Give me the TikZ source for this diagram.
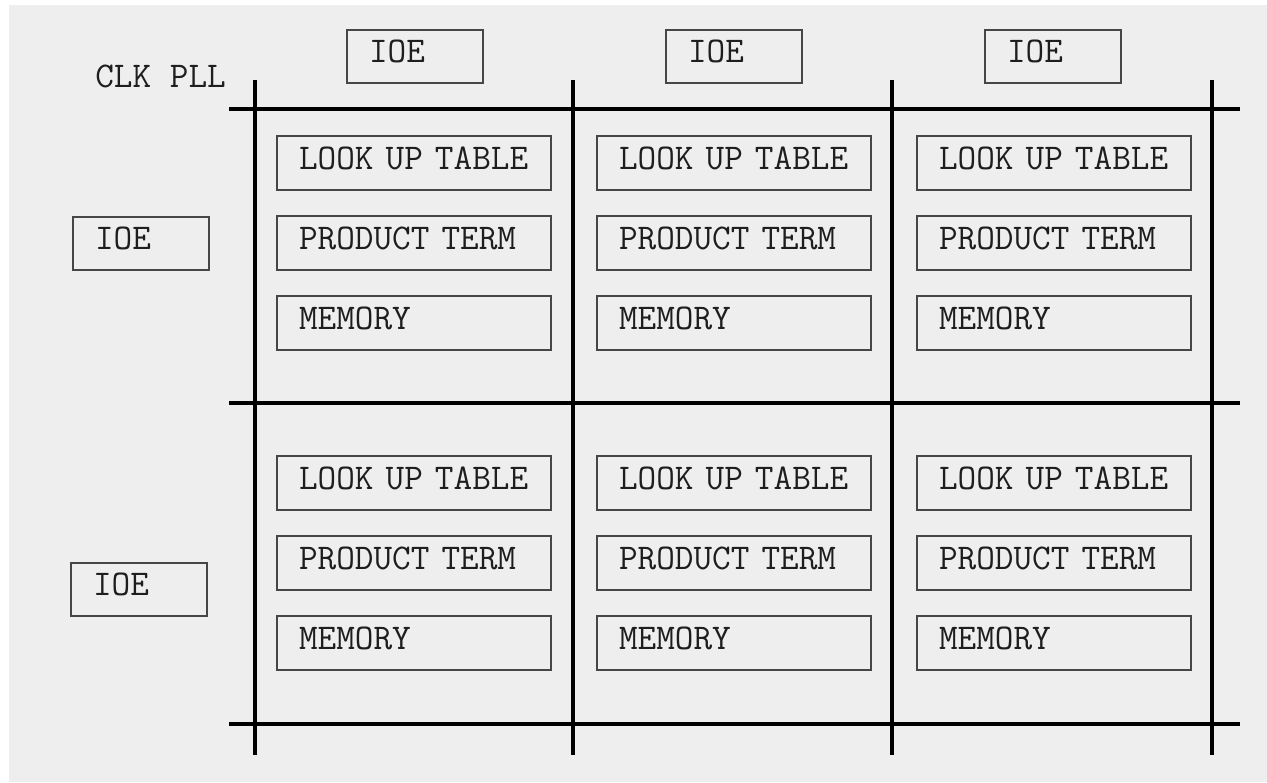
\documentclass[tikz,border=0pt]{standalone}
\usepackage{tikz}
\usetikzlibrary{positioning}
\usepackage{xcolor}
\definecolor{paper}{RGB}{238,238,238}
\definecolor{ink}{RGB}{30,30,30}
\definecolor{frame}{RGB}{70,70,70}
\newcommand{\typefont}{\fontsize{20.6}{23}\selectfont\ttfamily}

\begin{document}
\begin{tikzpicture}[
    cell/.style={draw=frame, line width=0.04cm, outer sep=0pt, inner xsep=0.44cm,
      minimum width=5.48cm, minimum height=1.08cm, text width=4.60cm, align=left,
      text depth=0.2cm, text=ink, font=\typefont},
    ioe/.style={cell, minimum width=2.72cm, minimum height=1.06cm, text width=1.84cm},
    bus/.style={line width=0.09cm, line cap=butt},
    node distance=0.52cm
  ]
  \useasboundingbox (0,0) rectangle (25.34,-15.64);
  \fill[paper] (0.18,-0.10) rectangle (25.34,-15.64);

  % routing grid
  \foreach \x in {5.10,11.46,17.84,24.24}
    \draw[bus, line width=0.07cm] (\x,-1.60) -- (\x,-15.10);
  \foreach \y in {-2.18,-8.06,-14.48}
    \draw[bus] (4.58,\y) -- (24.80,\y);

  % upper row of blocks
  \node[cell, anchor=north west] (lut1) at (5.54,-2.72) {LOOK UP TABLE};
  \node[cell, below=of lut1] (pt1) {PRODUCT TERM};
  \node[cell, below=of pt1] (mem1) {MEMORY};
  \node[cell, right=0.92cm of lut1] (lut2) {LOOK UP TABLE};
  \node[cell, below=of lut2] (pt2) {PRODUCT TERM};
  \node[cell, below=of pt2] (mem2) {MEMORY};
  \node[cell, right=0.92cm of lut2] (lut3) {LOOK UP TABLE};
  \node[cell, below=of lut3] (pt3) {PRODUCT TERM};
  \node[cell, below=of pt3] (mem3) {MEMORY};

  % lower row of blocks
  \node[cell, below=2.12cm of mem1] (lut4) {LOOK UP TABLE};
  \node[cell, below=of lut4] (pt4) {PRODUCT TERM};
  \node[cell, below=of pt4] (mem4) {MEMORY};
  \node[cell, right=0.92cm of lut4] (lut5) {LOOK UP TABLE};
  \node[cell, below=of lut5] (pt5) {PRODUCT TERM};
  \node[cell, below=of pt5] (mem5) {MEMORY};
  \node[cell, right=0.92cm of lut5] (lut6) {LOOK UP TABLE};
  \node[cell, below=of lut6] (pt6) {PRODUCT TERM};
  \node[cell, below=of pt6] (mem6) {MEMORY};

  % I/O elements
  \node[ioe, anchor=north west] (ioe1) at (6.94,-0.60) {IOE};
  \node[ioe, right=3.66cm of ioe1] (ioe2) {IOE};
  \node[ioe, right=3.66cm of ioe2] (ioe3) {IOE};
  \node[ioe, left=1.36cm of pt1] (ioe4) {IOE};
  \node[ioe, anchor=north west] (ioe5) at (1.42,-11.26) {IOE};

  \node[anchor=base west, inner sep=0pt, text=ink, font=\typefont] (clk) at (1.90,-1.74) {CLK PLL};
\end{tikzpicture}
\end{document}
